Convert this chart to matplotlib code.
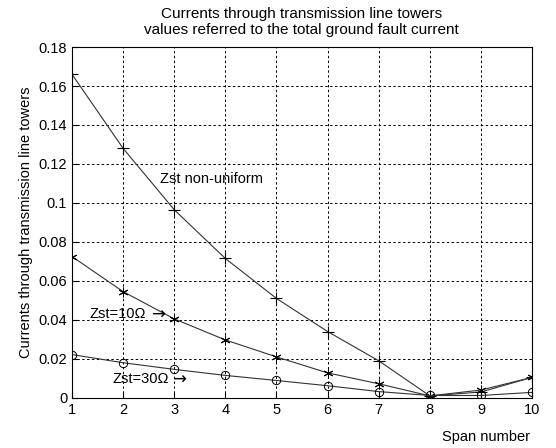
import matplotlib
matplotlib.use("Agg")
import matplotlib.pyplot as plt
import numpy as np

plt.rcParams['font.family'] = ['Liberation Sans', 'DejaVu Sans']

# data
span = [1, 2, 3, 4, 5, 6, 7, 8, 9, 10]
zst_nonuniform = [0.166, 0.128, 0.0965, 0.0715, 0.051, 0.034, 0.019, 0.001, 0.003, 0.0105]
zst_10 = [0.0725, 0.0545, 0.0405, 0.0297, 0.021, 0.0128, 0.0072, 0.001, 0.004, 0.0105]
zst_30 = [0.0222, 0.018, 0.0146, 0.0115, 0.0089, 0.0062, 0.0032, 0.0012, 0.0012, 0.0028]

fig = plt.figure(figsize=(5.56, 4.48), dpi=100)
ax = fig.add_axes([0.1295, 0.112, 0.8275, 0.783])

ax.plot(span, zst_nonuniform, color="#333333", lw=0.8, marker="+", ms=8, mew=0.8, mec="black")
ax.plot(span, zst_10, color="#333333", lw=0.8, marker=(6, 2, 0), ms=7, mew=0.7, mec="black")
ax.plot(span, zst_30, color="#333333", lw=0.8, marker="o", ms=6, mfc="none", mew=0.7, mec="black")

ax.set_xlim(1, 10)
ax.set_ylim(0, 0.18)
ax.set_xticks(range(1, 11))
ax.set_yticks(np.arange(0, 0.181, 0.02))
ax.set_yticklabels(["0", "0.02", "0.04", "0.06", "0.08", "0.1", "0.12", "0.14", "0.16", "0.18"])
ax.tick_params(direction="in", labelsize=10.5, length=4)
ax.grid(True, color="black", linestyle=(0, (2.5, 2.5)), lw=0.7)
for s in ax.spines.values():
    s.set_linewidth(0.8)

ax.text(2.72, 0.110, "Zst non-uniform", fontsize=10.5)
ax.text(1.35, 0.041, "Zst=10\u03a9", fontsize=10.5)
ax.text(2.55, 0.040, "\u2192", fontsize=12, family="DejaVu Sans")
ax.text(1.8, 0.0077, "Zst=30\u03a9", fontsize=10.5)
ax.text(2.95, 0.0067, "\u2192", fontsize=12, family="DejaVu Sans")

ax.set_ylabel("Currents through transmission line towers", fontsize=10.5)
fig.text(0.795, 0.015, "Span number", fontsize=10.5)
fig.text(0.542, 0.925, "Currents through transmission line towers\nvalues referred to the total ground fault current",
         ha="center", fontsize=11, linespacing=1.15)

fig.savefig("out.png", dpi=100)
